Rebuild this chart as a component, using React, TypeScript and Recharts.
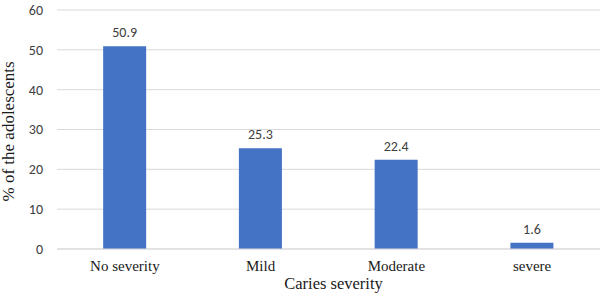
import { Bar, BarChart, CartesianGrid, LabelList, XAxis, YAxis } from "recharts";

const categories = ["No severity", "Mild", "Moderate", "severe"];
const percents = [50.9, 25.3, 22.4, 1.6];
const yTicks = [0, 10, 20, 30, 40, 50, 60];

const data = categories.map((name, i) => ({ name, value: percents[i] }));

const serif = "'Liberation Serif', 'Times New Roman', serif";
const sans = "Carlito, Lato, 'Open Sans', sans-serif";

export default function App() {
  return (
    <div style={{ position: "fixed", left: 0, top: 0, width: 602, height: 300, background: "#fff" }}>
      <BarChart
        width={602}
        height={300}
        data={data}
        margin={{ top: 10, right: 2, bottom: 0, left: 20 }}
        barCategoryGap="34%"
      >
        <CartesianGrid vertical={false} stroke="#d9d9d9" />
        <XAxis
          dataKey="name"
          axisLine={{ stroke: "#d9d9d9" }}
          tickLine={false}
          height={51}
          tickMargin={5}
          tick={{ fill: "#1a1a1a", fontFamily: serif, fontSize: 15 }}
          label={{
            value: "Caries severity",
            position: "insideBottom",
            offset: 11,
            dx: 5,
            fill: "#1a1a1a",
            fontFamily: serif,
            fontSize: 16.5,
          }}
        />
        <YAxis
          domain={[0, 60]}
          ticks={yTicks}
          width={37}
          axisLine={false}
          tickLine={false}
          tickMargin={8}
          tick={{ fill: "#404040", fontFamily: sans, fontSize: 14 }}
          label={{
            value: "% of the adolescents",
            angle: -90,
            position: "insideLeft",
            dx: -17,
            dy: 72,
            fill: "#1a1a1a",
            fontFamily: serif,
            fontSize: 17,
          }}
        />
        <Bar dataKey="value" fill="#4472C4" isAnimationActive={false}>
          <LabelList
            dataKey="value"
            position="top"
            offset={9}
            fill="#404040"
            fontFamily={sans}
            fontSize={14}
          />
        </Bar>
      </BarChart>
    </div>
  );
}
